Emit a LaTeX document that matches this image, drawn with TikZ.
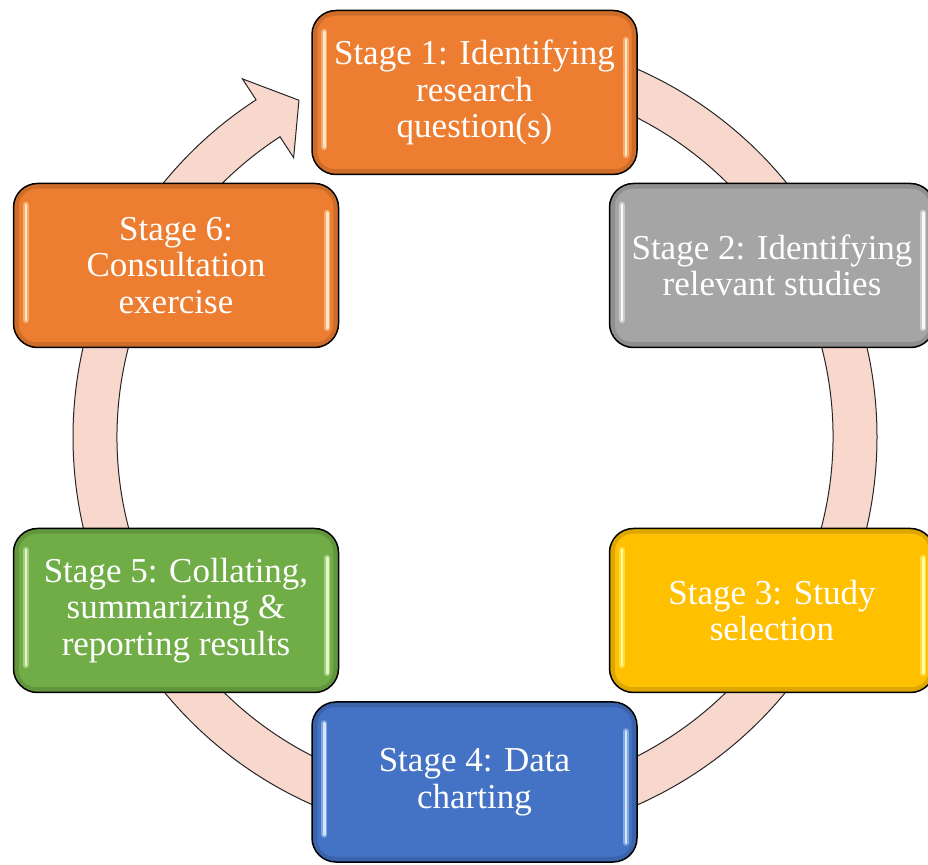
\documentclass[tikz,border=0pt]{standalone}
\usepackage{fontspec}
\setmainfont{Liberation Serif}
\usetikzlibrary{calc}
\definecolor{ringpink}{HTML}{F8D7CD}
\definecolor{sorange}{HTML}{ED7D31}
\definecolor{sgray}{HTML}{A5A5A5}
\definecolor{sgold}{HTML}{FFC000}
\definecolor{sblue}{HTML}{4472C4}
\definecolor{sgreen}{HTML}{70AD47}
\definecolor{hlorange}{HTML}{FFE6C4}
\definecolor{hlgray}{HTML}{FAFAFA}
\definecolor{hlgold}{HTML}{FFFF9A}
\definecolor{hlblue}{HTML}{D2E6FF}
\definecolor{hlgreen}{HTML}{E2F7C8}
\newcommand\glossfx[2]{%
  \draw[black, opacity=0.13, line width=5pt, rounded corners=20pt]
    ([shift={(3.5,3.5)}]#1.south west) rectangle ([shift={(-3.5,-3.5)}]#1.north east);
  \draw[#2, opacity=0.45, line width=6pt, line cap=round]
    ([shift={(13,-22)}]#1.north west) -- ([shift={(13,28)}]#1.south west);
  \draw[#2, line width=2.5pt, line cap=round]
    ([shift={(13,-22)}]#1.north west) -- ([shift={(13,28)}]#1.south west);
  \draw[#2, opacity=0.45, line width=6pt, line cap=round]
    ([shift={(-12,-30)}]#1.north east) -- ([shift={(-12,20)}]#1.south east);
  \draw[#2, line width=2.5pt, line cap=round]
    ([shift={(-12,-30)}]#1.north east) -- ([shift={(-12,20)}]#1.south east);
}
\begin{document}
\begin{tikzpicture}[x=1pt,y=1pt,
  stagebox/.style={draw=black, line width=1.5pt, rounded corners=24pt,
    minimum width=325pt, minimum height=164pt, text=white, align=center,
    inner sep=0pt, font=\fontsize{35}{36.5}\selectfont},
  ringstyle/.style={fill=ringpink, draw=black!85, line width=1pt}
]
\useasboundingbox (0,0) rectangle (928,864);
\fill[white] (0,0) rectangle (928,864);
\coordinate (c) at (475,427);
% circular arrow
\draw[ringstyle] ($(c)+(90:402)$) arc[start angle=90, end angle=-237, radius=402]
  -- ($(c)+(-237:427)$) -- ($(c)+(-242.4:380)$) -- ($(c)+(-237:333)$)
  -- ($(c)+(-237:358)$) arc[start angle=-237, end angle=90, radius=358] -- cycle;
% stages
\node[stagebox, fill=sorange] (s1) at (474.5,771.5) {Stage 1: Identifying\\research\\question(s)};
\node[stagebox, fill=sgray]   (s2) at (772,598.5) {Stage 2: Identifying\\relevant studies};
\node[stagebox, fill=sgold]   (s3) at (772,253.5) {Stage 3: Study\\selection};
\node[stagebox, fill=sblue, minimum height=160pt] (s4) at (474.5,82) {Stage 4: Data\\charting};
\node[stagebox, fill=sgreen]  (s5) at (176,253.5) {Stage 5: Collating,\\summarizing \&\\reporting results};
\node[stagebox, fill=sorange] (s6) at (176,598.5) {Stage 6:\\Consultation\\exercise};
\glossfx{s1}{hlorange}
\glossfx{s2}{hlgray}
\glossfx{s3}{hlgold}
\glossfx{s4}{hlblue}
\glossfx{s5}{hlgreen}
\glossfx{s6}{hlorange}
\end{tikzpicture}
\end{document}
